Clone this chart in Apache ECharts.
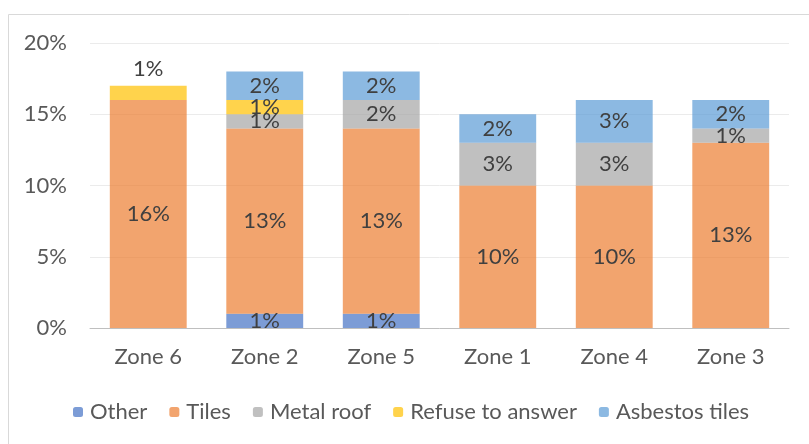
<!DOCTYPE html>
<html>
<head>
  <meta charset="UTF-8">
  <title>Roof type by zone</title>
  <style>
    html, body { margin: 0; padding: 0; background: #fff; }
    #chart { width: 809px; height: 444px; }
  </style>
</head>
<body>
<div id="chart"></div>
<script src="https://cdn.jsdelivr.net/npm/echarts@6/dist/echarts.min.js"></script>
<script>
  const zones = ['Zone 6', 'Zone 2', 'Zone 5', 'Zone 1', 'Zone 4', 'Zone 3'];
  const other = [0, 1, 1, 0, 0, 0];
  const tiles = [16, 13, 13, 10, 10, 13];
  const metalRoof = [0, 1, 2, 3, 3, 1];
  const refuse = [1, 1, 0, 0, 0, 0];
  const asbestos = [0, 2, 2, 2, 3, 2];
  const yTicks = [0, 5, 10, 15, 20];

  const font = 'Lato, "Open Sans", sans-serif';
  const chart = echarts.init(document.getElementById('chart'));

  function mkSeries(name, values, color) {
    return {
      name: name,
      type: 'bar',
      stack: 'total',
      barWidth: '66%',
      itemStyle: {color: color},
      data: values.map(function (v, i) {
        const item = {value: v === 0 ? null : v};
        // the lone refuse label on Zone 6 sits above the bar
        if (name === 'Refuse to answer' && i === 0) {
          item.label = {position: 'top', distance: 6};
        }
        return item;
      }),
      label: {
        show: true,
        position: 'inside',
        color: '#404040',
        fontSize: 22,
        fontFamily: font,
        formatter: function (p) { return p.value ? p.value + '%' : ''; }
      }
    };
  }

  chart.setOption({
    animation: false,
    graphic: [{
      type: 'rect',
      shape: {x: 8.5, y: 14.5, width: 830, height: 460},
      style: {fill: 'none', stroke: '#d9d9d9', lineWidth: 1},
      silent: true
    }],
    grid: {left: 90, right: 20, top: 43, bottom: 116},
    legend: {
      bottom: 16,
      left: 68,
      itemWidth: 10,
      itemHeight: 10,
      itemGap: 22,
      textStyle: {color: '#595959', fontSize: 22, fontFamily: font, padding: [0, 0, 0, 2]},
      data: ['Other', 'Tiles', 'Metal roof', 'Refuse to answer', 'Asbestos tiles']
    },
    xAxis: {
      type: 'category',
      data: zones,
      axisLine: {lineStyle: {color: '#bfbfbf', width: 1}},
      axisTick: {show: false},
      axisLabel: {color: '#595959', fontSize: 22, fontFamily: font, margin: 18}
    },
    yAxis: {
      type: 'value',
      min: yTicks[0],
      max: yTicks[yTicks.length - 1],
      interval: 5,
      axisLine: {show: false},
      axisTick: {show: false},
      splitLine: {lineStyle: {color: '#ebebeb', width: 1}},
      axisLabel: {color: '#595959', fontSize: 22, fontFamily: font, margin: 23, formatter: '{value}%'}
    },
    series: [
      mkSeries('Other', other, 'rgba(68,114,196,0.7)'),
      mkSeries('Tiles', tiles, 'rgba(237,125,49,0.7)'),
      mkSeries('Metal roof', metalRoof, 'rgba(165,165,165,0.7)'),
      mkSeries('Refuse to answer', refuse, 'rgba(255,192,0,0.7)'),
      mkSeries('Asbestos tiles', asbestos, 'rgba(91,155,213,0.7)')
    ]
  });
</script>
</body>
</html>
